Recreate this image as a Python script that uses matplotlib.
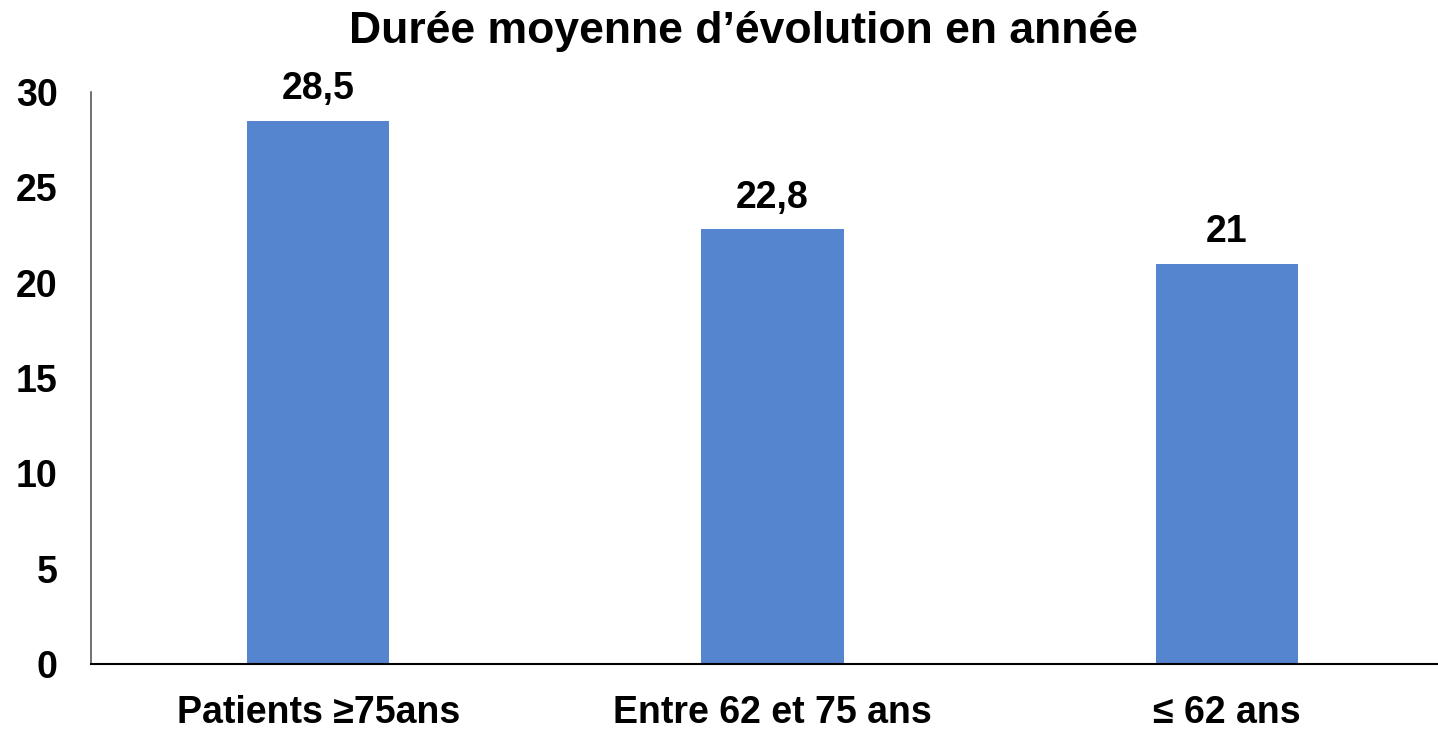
import matplotlib
matplotlib.use("Agg")
import matplotlib.pyplot as plt

categories = ["Patients \u226575ans", "Entre 62 et 75 ans", "\u2264 62 ans"]
values = [28.5, 22.8, 21]
labels = ["28,5", "22,8", "21"]
title = "Durée moyenne d\u2019évolution en année"

plt.rcParams["font.family"] = ["Liberation Sans", "DejaVu Sans"]
plt.rcParams["font.weight"] = "bold"

fig = plt.figure(figsize=(14.38, 7.30), dpi=100)
ax = fig.add_axes([91 / 1438, 66 / 730, (1438 - 91) / 1438, (664 - 92) / 730])

x = range(len(categories))
bars = ax.bar(x, values, width=0.313, color="#5585CE")
for rect, lab in zip(bars, labels):
    ax.text(rect.get_x() + rect.get_width() / 2, rect.get_height() + 0.7, lab,
            ha="center", va="bottom", fontsize=27, fontweight="bold")

ax.set_xlim(-0.5, 2.465)
ax.set_ylim(0, 30)
ax.set_yticks(range(0, 31, 5))
ax.set_xticks(list(x))
ax.set_xticklabels(categories, fontsize=27, fontweight="bold")
ax.tick_params(axis="y", length=0, pad=24, labelsize=27)
ax.tick_params(axis="x", length=0, pad=22)
for lbl in ax.get_yticklabels():
    lbl.set_fontweight("bold")

ax.spines["top"].set_visible(False)
ax.spines["right"].set_visible(False)
ax.spines["left"].set_color("#595959")
ax.spines["left"].set_linewidth(1.2)
ax.spines["bottom"].set_color("black")
ax.spines["bottom"].set_linewidth(1.5)

fig.text(743 / 1438, 1 - 32 / 730, title, ha="center", va="center",
         fontsize=32, fontweight="bold")

fig.savefig("out.png", dpi=100)
